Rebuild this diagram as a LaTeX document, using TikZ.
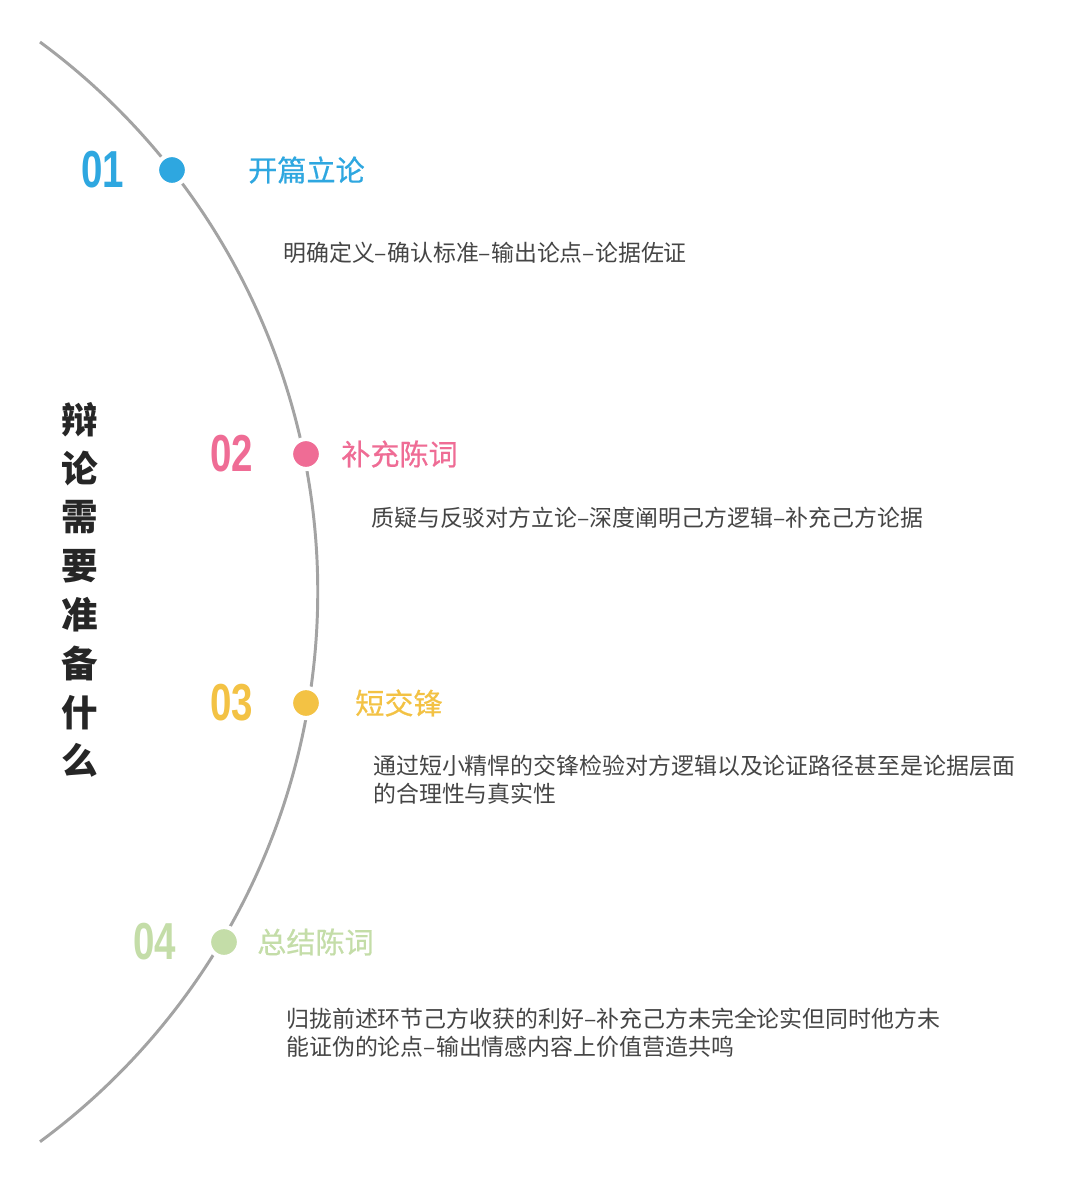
\documentclass[tikz,border=0pt]{standalone}
\usepackage{fontspec}
\setmainfont{Noto Sans CJK SC}
\newfontfamily\numfont[FakeStretch=0.74]{Liberation Sans}
\newfontfamily\titlefont[FakeBold=0.6]{Noto Sans CJK SC}
\usetikzlibrary{positioning, calc}

\definecolor{stepblue}{HTML}{2EA7E0}
\definecolor{steppink}{HTML}{EF6C95}
\definecolor{stepyellow}{HTML}{F3C244}
\definecolor{stepgreen}{HTML}{C4DDA8}
\definecolor{arcgray}{HTML}{A3A3A3}
\definecolor{bodygray}{HTML}{454545}

\tikzset{
    num/.style={font=\numfont\bfseries\fontsize{37}{40}\selectfont, inner sep=0pt},
    dot/.style={circle, minimum size=0.75cm, inner sep=0pt, draw=white, line width=3pt},
    title/.style={anchor=west, inner sep=0pt, font=\titlefont\fontsize{20.7}{24}\selectfont},
    body/.style={anchor=west, inner sep=0pt, align=left, text=bodygray,
        font=\fontsize{16.3}{19.9}\selectfont}
}

\begin{document}
\begin{tikzpicture}[x=0.025cm, y=-0.025cm]
    \useasboundingbox[fill=white] (0,0) rectangle (1080,1184);

    %Arc
    \coordinate (top) at (40,42);
    \draw[arcgray, line width=2.1pt] (top) arc[start angle=53.6, end angle=-53.6, radius=17.075cm];

    %Heading
    \node[inner sep=0pt, align=center, font=\bfseries\fontsize{26}{34.7}\selectfont, text=black!85] (heading) at (80,590)
        {辩\\论\\需\\要\\准\\备\\什\\么};

    %Dots
    \node[dot, fill=stepblue] (dot1) at (172,170) {};
    \node[dot, fill=steppink] (dot2) at (306,454) {};
    \node[dot, fill=stepyellow] (dot3) at (306,703) {};
    \node[dot, fill=stepgreen] (dot4) at (224,942) {};

    %Numbers
    \node[num, text=stepblue] (num1) at (103,170) {01};
    \node[num, text=steppink] (num2) at (232,454) {02};
    \node[num, text=stepyellow] (num3) at (232,703) {03};
    \node[num, text=stepgreen] (num4) at (155,942) {04};

    %Titles
    \node[title, text=stepblue] (title1) at ($(dot1)+(76,0)$) {开篇立论};
    \node[title, text=steppink] (title2) at ($(dot2)+(35,0)$) {补充陈词};
    \node[title, text=stepyellow] (title3) at ($(dot3)+(49,0)$) {短交锋};
    \node[title, text=stepgreen] (title4) at ($(dot4)+(33,0)$) {总结陈词};

    %Texts
    \node[body] (text1) at (283,253) {明确定义–确认标准–输出论点–论据佐证};
    \node[body] (text2) at (371,518) {质疑与反驳对方立论–深度阐明己方逻辑–补充己方论据};
    \node[body] (text3) at (373,780) {通过短小精悍的交锋检验对方逻辑以及论证路径甚至是论据层面\\的合理性与真实性};
    \node[body] (text4) at (286,1033) {归拢前述环节己方收获的利好–补充己方未完全论实但同时他方未\\能证伪的论点–输出情感内容上价值营造共鸣};
\end{tikzpicture}
\end{document}
